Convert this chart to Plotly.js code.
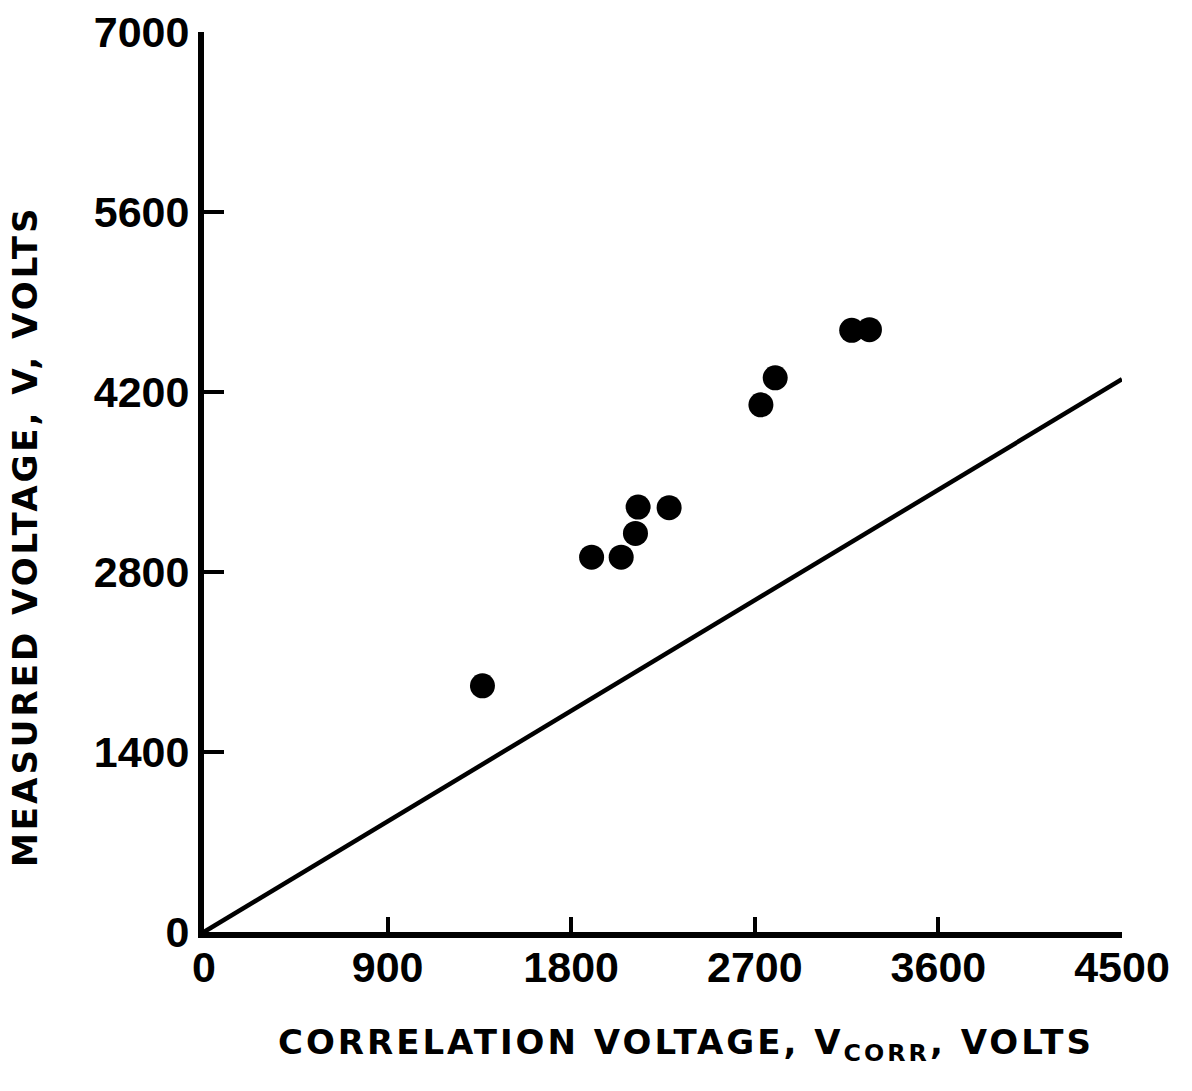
<!DOCTYPE html>
<html>
<head>
<meta charset="utf-8">
<script src="https://cdn.plot.ly/plotly-3.0.1.min.js"></script>
<style>
  html, body { margin: 0; padding: 0; background: #fff; }
  #chart { width: 1192px; height: 1091px; }
</style>
</head>
<body>
<div id="chart"></div>
<script>
// Measured vs. correlation voltage
const vCorr = [1365, 1900, 2045, 2115, 2128, 2280, 2730, 2800, 3175, 3262];
const vMeasured = [1915, 2915, 2915, 3100, 3305, 3300, 4100, 4310, 4680, 4685];

// Reference line
const refX = [0, 4500];
const refY = [0, 4300];

const xTicks = [0, 900, 1800, 2700, 3600, 4500];
const yTicks = [0, 1400, 2800, 4200, 5600, 7000];

const titleFont = '"DejaVu Sans", "Liberation Sans", sans-serif';
const tickFont = '"Liberation Sans", Arial, sans-serif';

const spaced = s => '<span style="letter-spacing:3px">' + s + '</span>';

const traces = [
  {
    x: refX, y: refY, type: 'scatter', mode: 'lines',
    line: { color: '#000', width: 4.5 },
    hoverinfo: 'skip'
  },
  {
    x: vCorr, y: vMeasured, type: 'scatter', mode: 'markers',
    marker: { color: '#000', size: 25, line: { width: 0 } },
    cliponaxis: false
  }
];

const layout = {
  width: 1192, height: 1091,
  margin: { l: 204, r: 70, t: 32, b: 159 },
  paper_bgcolor: '#fff', plot_bgcolor: '#fff',
  showlegend: false,
  font: { family: titleFont, color: '#000' },
  xaxis: {
    range: [0, 4500],
    tickvals: xTicks,
    ticktext: xTicks.map(String),
    ticks: 'inside', ticklen: 15, tickwidth: 4, tickcolor: '#000',
    showline: true, linewidth: 6, linecolor: '#000',
    showgrid: false, zeroline: false,
    tickfont: { family: tickFont, size: 43, color: '#000', weight: 'bold' },
    ticklabelstandoff: -8
  },
  yaxis: {
    range: [0, 7000],
    tickvals: yTicks,
    ticktext: yTicks.map(String),
    ticks: 'inside', ticklen: 20, tickwidth: 4, tickcolor: '#000',
    showline: true, linewidth: 6, linecolor: '#000',
    showgrid: false, zeroline: false,
    tickfont: { family: tickFont, size: 43, color: '#000', weight: 'bold' },
    ticklabelstandoff: 0
  },
  annotations: [
    {
      xref: 'paper', yref: 'paper', x: 0.525, y: -0.125,
      xanchor: 'center', yanchor: 'middle', showarrow: false,
      text: spaced('CORRELATION VOLTAGE, V<sub>CORR</sub>, VOLTS'),
      font: { family: titleFont, size: 34, color: '#000', weight: 'bold' }
    },
    {
      xref: 'paper', yref: 'paper', x: -0.195, y: 0.44,
      xanchor: 'center', yanchor: 'middle', showarrow: false,
      textangle: -90,
      text: spaced('MEASURED VOLTAGE, V, VOLTS'),
      font: { family: titleFont, size: 34, color: '#000', weight: 'bold' }
    }
  ]
};

Plotly.newPlot('chart', traces, layout, { displayModeBar: false, staticPlot: true });
</script>
</body>
</html>
